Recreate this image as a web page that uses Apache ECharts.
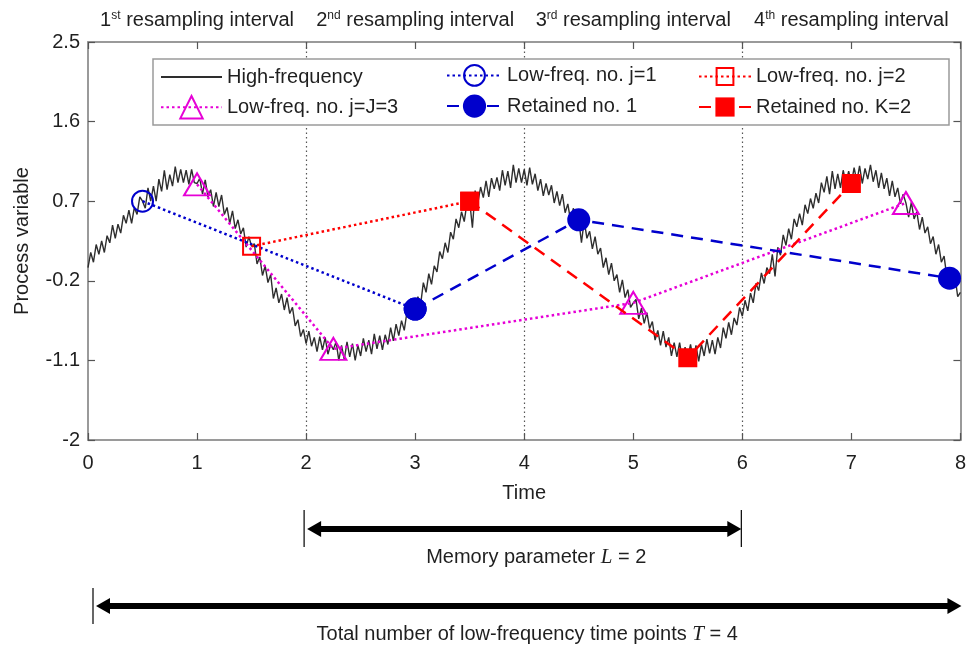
<!DOCTYPE html>
<html>
<head>
<meta charset="utf-8">
<script src="https://cdn.jsdelivr.net/npm/echarts@6/dist/echarts.min.js"></script>
<style>
  html, body { margin: 0; padding: 0; background: #ffffff; }
  #chart { width: 969px; height: 648px; }
</style>
</head>
<body>
<div id="chart"></div>
<script>
// ---- Data -----------------------------------------------------------------
// High-frequency process signal, sampled every HF_STEP time units from t = 0.
const HF_STEP = 0.025;
const hfValues = [
  -0.05, 0.12, 0.01, 0.21, 0.10, 0.25, 0.12, 0.31, 0.23, 0.43, 0.28,
  0.44, 0.34, 0.54, 0.45, 0.60, 0.45, 0.63, 0.55, 0.75, 0.70,
  0.62, 0.85, 0.70, 0.87, 0.70, 0.95, 0.81, 1.05, 0.83, 1.00,
  0.87, 1.09, 0.91, 1.06, 0.91, 1.05, 0.89, 1.06, 0.91, 0.90,
  0.96, 0.78, 0.94, 0.75, 0.83, 0.64, 0.80, 0.64, 0.77, 0.55,
  0.63, 0.45, 0.59, 0.39, 0.49, 0.33, 0.40, 0.18, 0.30, 0.19,
  0.22, -0.01, 0.07, -0.14, -0.03, -0.22, -0.13, -0.40, -0.28, -0.45,
  -0.35, -0.53, -0.39, -0.57, -0.50, -0.71, -0.64, -0.83, -0.75, -0.91,
  -0.77, -0.94, -0.84, -1.00, -0.83, -0.98, -0.84, -1.03, -0.92, -0.98,
  -0.89, -1.10, -0.93, -1.09, -0.89, -1.06, -0.91, -1.10, -0.93, -1.05,
  -0.85, -1.00, -0.87, -1.03, -0.80, -0.97, -0.82, -0.98, -0.81, -0.92, -0.73, -0.88,
  -0.69, -0.82, -0.65, -0.76, -0.55, -0.63, -0.46, -0.52,
  -0.38, -0.47, -0.22, -0.33, -0.12, -0.24, -0.03, -0.10, 0.13, 0.05,
  0.23, 0.12, 0.35, 0.27, 0.50, 0.40, 0.58, 0.47, 0.68, 0.70,
  0.40, 0.82, 0.68, 0.86, 0.74, 0.93, 0.75, 0.96, 0.84, 0.97,
  0.82, 1.05, 0.88, 1.04, 0.85, 1.11, 0.91, 1.07, 0.91, 1.06,
  0.88, 1.08, 0.89, 1.01, 0.82, 0.95, 0.76, 0.90, 0.77, 0.88,
  0.68, 0.81, 0.65, 0.78, 0.57, 0.67, 0.48, 0.62, 0.49, 0.49,
  0.23, 0.48, 0.28, 0.36, 0.16, 0.30, 0.10, 0.17, -0.05, 0.06,
  -0.13, 0.00, -0.20, -0.13, -0.33, -0.19, -0.39, -0.30, -0.50, -0.45,
  -0.41, -0.63, -0.51, -0.68, -0.56, -0.74, -0.66, -0.87, -0.76, -0.93,
  -0.77, -0.95, -0.84, -1.05, -0.90, -1.06, -0.90, -1.09, -0.95, -1.07,
  -0.92, -1.09, -0.93, -1.11, -0.92, -1.05, -0.86, -1.02, -0.87, -1.03,
  -0.84, -0.96, -0.73, -0.85, -0.67, -0.81, -0.62, -0.70, -0.50, -0.60,
  -0.42, -0.54, -0.34, -0.45, -0.23, -0.31, -0.11, -0.23, -0.05, -0.12,
  0.10, -0.15, 0.18, 0.09, 0.32, 0.20, 0.39, 0.27, 0.50, 0.41,
  0.56, 0.43, 0.66, 0.56, 0.73, 0.62, 0.79, 0.68, 0.91, 0.80,
  0.98, 0.78, 1.04, 0.84, 1.01, 0.85, 1.05, 0.90, 1.04, 0.90,
  1.08, 0.92, 1.10, 0.90, 1.07, 0.95, 1.11, 0.92,
  1.05, 0.85, 1.02, 0.84, 0.96, 0.76, 0.93, 0.75, 0.85, 0.67, 0.78, 0.68,
  0.52, 0.69, 0.50, 0.58, 0.38, 0.52, 0.34, 0.41, 0.22, 0.30,
  0.10, 0.21, 0.01, 0.08, -0.15, -0.14, -0.21, -0.15, -0.38, -0.33
];

// Low-frequency samples (one per resampling interval) and the retained paths
const lf1Times = [0.5, 3.0];
const lf1Values = [0.70, -0.52];
const lf2Times = [1.5, 3.5];
const lf2Values = [0.19, 0.70];
const lf3Times = [1.0, 2.25, 5.0, 7.5];
const lf3Values = [0.89, -0.97, -0.45, 0.68];
const ret1Times = [3.0, 4.5, 7.9];
const ret1Values = [-0.52, 0.49, -0.17];
const ret2Times = [3.5, 5.5, 7.0];
const ret2Values = [0.70, -1.07, 0.90];

// Axis ticks and annotations
const xTicks = [0, 1, 2, 3, 4, 5, 6, 7, 8];
const yTicks = [-2, -1.1, -0.2, 0.7, 1.6, 2.5];
const intervalBounds = [2, 4, 6];
const intervalCentres = [1, 3, 5, 7];
const ordinalNumbers = ['1', '2', '3', '4'];
const ordinalSuffixes = ['st', 'nd', 'rd', 'th'];
const intervalTitle = ' resampling interval';
const memorySpan = [2, 6];
const totalSpan = [0, 8];

// ---- Styling ----------------------------------------------------------------
const FONT = '"Liberation Sans", Arial, Helvetica, sans-serif';
const TEXT = '#1f1f1f';
const AXIS = '#9a9a9a';
const TICK = '#555555';
const BLUE = '#0000cc';
const RED = '#ff0000';
const MAGENTA = '#e600d6';
const DOT = [2.5, 3];
const DASH = [12, 8];

const pairs = (t, v) => t.map((x, i) => [x, v[i]]);
const hfData = hfValues.map((v, i) => [i * HF_STEP, v]);

const chart = echarts.init(document.getElementById('chart'), null, { renderer: 'canvas' });

const axisLine = { show: true, onZero: false, lineStyle: { color: AXIS, width: 2 } };
const axisTick = (vals) => ({ show: true, inside: true, length: 7, customValues: vals,
  lineStyle: { color: TICK, width: 1.2 } });

function legendItem(name, left, centerY, itemWidth, itemHeight, hideSymbol) {
  const item = {
    data: [name], left: left, top: centerY - itemHeight / 2, orient: 'horizontal',
    padding: 0, itemWidth: itemWidth, itemHeight: itemHeight, selectedMode: false, z: 8,
    textStyle: { fontSize: 20, color: TEXT, fontFamily: FONT, padding: [0, 0, 0, 0] }
  };
  if (hideSymbol) item.itemStyle = { opacity: 0 };
  return item;
}

const option = {
  animation: false,
  backgroundColor: '#ffffff',
  grid: { left: 88, right: 5, top: 42, bottom: 208, containLabel: false },
  xAxis: [
    {
      type: 'value', min: 0, max: 8, interval: 1, position: 'bottom',
      axisLine: axisLine, axisTick: axisTick(xTicks), splitLine: { show: false },
      axisLabel: { margin: 13, fontSize: 20, color: TEXT, fontFamily: FONT },
      name: 'Time', nameLocation: 'middle', nameGap: 43,
      nameTextStyle: { fontSize: 20, color: TEXT, fontFamily: FONT }
    },
    {
      type: 'value', min: 0, max: 8, interval: 1, position: 'top',
      axisLine: axisLine, axisTick: axisTick(xTicks), splitLine: { show: false },
      axisLabel: {
        customValues: intervalCentres, margin: 12, fontSize: 20, color: TEXT, fontFamily: FONT,
        formatter: (v) => {
          const i = intervalCentres.indexOf(v);
          return '{n|' + ordinalNumbers[i] + '}{s|' + ordinalSuffixes[i] + '}{n|' + intervalTitle + '}';
        },
        rich: {
          n: { fontSize: 20, color: TEXT, fontFamily: FONT },
          s: { fontSize: 12, color: TEXT, fontFamily: FONT, verticalAlign: 'top' }
        }
      }
    }
  ],
  yAxis: [
    {
      type: 'value', min: -2, max: 2.5, position: 'left',
      axisLine: axisLine, axisTick: axisTick(yTicks), splitLine: { show: false },
      axisLabel: { customValues: yTicks, margin: 8, fontSize: 20, color: TEXT, fontFamily: FONT },
      name: 'Process variable', nameLocation: 'middle', nameGap: 56, nameRotate: 90,
      nameTextStyle: { fontSize: 20, color: TEXT, fontFamily: FONT }
    },
    {
      type: 'value', min: -2, max: 2.5, position: 'right',
      axisLine: axisLine, axisTick: axisTick(yTicks), splitLine: { show: false },
      axisLabel: { show: false }
    }
  ],
  legend: [
    legendItem('High-frequency', 160, 77, 61, 20, true),
    legendItem('Low-freq. no. j=1', 446, 77, 55, 26),
    legendItem('Low-freq. no. j=2', 698, 77, 52, 21),
    legendItem('Low-freq. no. j=J=3', 160, 109, 61, 28),
    legendItem('Retained no. 1', 446, 109, 55, 29),
    legendItem('Retained no. K=2', 698, 109, 52, 24)
  ],
  series: [
    {
      name: 'High-frequency', type: 'line', data: hfData, symbol: 'none', z: 2,
      lineStyle: { color: '#2e2e2e', width: 1.4 }, itemStyle: { color: '#2e2e2e' },
      markLine: {
        silent: true, z: 1, symbol: ['none', 'none'], label: { show: false },
        lineStyle: { color: '#555555', width: 1.2, type: [1.5, 3] },
        emphasis: { disabled: true },
        data: intervalBounds.map((x) => ({ xAxis: x }))
      }
    },
    {
      name: 'Low-freq. no. j=1', type: 'line', data: pairs(lf1Times, lf1Values), z: 3,
      symbol: 'circle', symbolSize: 21, showSymbol: true,
      lineStyle: { color: BLUE, width: 2.5, type: DOT },
      itemStyle: { color: 'rgba(255,255,255,0)', borderColor: BLUE, borderWidth: 2 }
    },
    {
      name: 'Low-freq. no. j=2', type: 'line', data: pairs(lf2Times, lf2Values), z: 3,
      symbol: 'rect', symbolSize: 17, showSymbol: true,
      lineStyle: { color: RED, width: 2.5, type: DOT },
      itemStyle: { color: 'rgba(255,255,255,0)', borderColor: RED, borderWidth: 2 }
    },
    {
      name: 'Low-freq. no. j=J=3', type: 'line', data: pairs(lf3Times, lf3Values), z: 3,
      symbol: 'triangle', symbolSize: [26, 22], showSymbol: true,
      lineStyle: { color: MAGENTA, width: 2.5, type: DOT },
      itemStyle: { color: 'rgba(255,255,255,0)', borderColor: MAGENTA, borderWidth: 2 }
    },
    {
      name: 'Retained no. 1', type: 'line', data: pairs(ret1Times, ret1Values), z: 4,
      symbol: 'circle', symbolSize: 23, showSymbol: true,
      lineStyle: { color: BLUE, width: 2.5, type: DASH },
      itemStyle: { color: BLUE }
    },
    {
      name: 'Retained no. K=2', type: 'line', data: pairs(ret2Times, ret2Values), z: 4,
      symbol: 'rect', symbolSize: 19, showSymbol: true,
      lineStyle: { color: RED, width: 2.5, type: DASH },
      itemStyle: { color: RED }
    }
  ]
};

chart.setOption(option);

// ---- Annotations below the axis -------------------------------------------
const px = (v) => chart.convertToPixel({ xAxisIndex: 0 }, v);

function doubleArrow(x1, x2, y, barLeft, barRight, barTop, barBottom) {
  const head = 14, half = 8;
  const els = [
    { type: 'line', shape: { x1: x1 + head - 2, y1: y, x2: x2 - head + 2, y2: y },
      style: { stroke: '#000', lineWidth: 6 } },
    { type: 'polygon', shape: { points: [[x1, y], [x1 + head, y - half], [x1 + head, y + half]] },
      style: { fill: '#000' } },
    { type: 'polygon', shape: { points: [[x2, y], [x2 - head, y - half], [x2 - head, y + half]] },
      style: { fill: '#000' } }
  ];
  if (barLeft) els.push({ type: 'line', shape: { x1: x1 - 3, y1: barTop, x2: x1 - 3, y2: barBottom },
    style: { stroke: '#000', lineWidth: 1.2 } });
  if (barRight) els.push({ type: 'line', shape: { x1: x2, y1: barTop, x2: x2, y2: barBottom },
    style: { stroke: '#000', lineWidth: 1.2 } });
  return els;
}

const memX1 = px(memorySpan[0]), memX2 = px(memorySpan[1]);
const totX1 = px(totalSpan[0]), totX2 = px(totalSpan[1]);

const graphics = [
  // legend frame
  { type: 'rect', z: 7, shape: { x: 153, y: 59, width: 796, height: 66 },
    style: { fill: '#ffffff', stroke: '#9a9a9a', lineWidth: 1.5 } }
]
  .concat(doubleArrow(memX1 + 1, memX2 - 1, 529, true, true, 510, 547))
  .concat(doubleArrow(totX1 + 8, totX2 + 1, 606, true, false, 588, 624))
  .concat([
    { type: 'text', x: (memX1 + memX2) / 2 + 12, y: 557,
      style: { text: 'Memory parameter {i|L} = 2', fontSize: 20, fontFamily: FONT, fill: TEXT,
        align: 'center', verticalAlign: 'middle',
        rich: { i: { fontSize: 21, fontStyle: 'italic', fontFamily: '"Liberation Serif", "Times New Roman", serif', fill: TEXT } } } },
    { type: 'text', x: (totX1 + totX2) / 2 + 3, y: 634,
      style: { text: 'Total number of low-frequency time points {i|T} = 4', fontSize: 20, fontFamily: FONT, fill: TEXT,
        align: 'center', verticalAlign: 'middle',
        rich: { i: { fontSize: 21, fontStyle: 'italic', fontFamily: '"Liberation Serif", "Times New Roman", serif', fill: TEXT } } } }
  ]);

chart.setOption({ graphic: graphics });
</script>
</body>
</html>
